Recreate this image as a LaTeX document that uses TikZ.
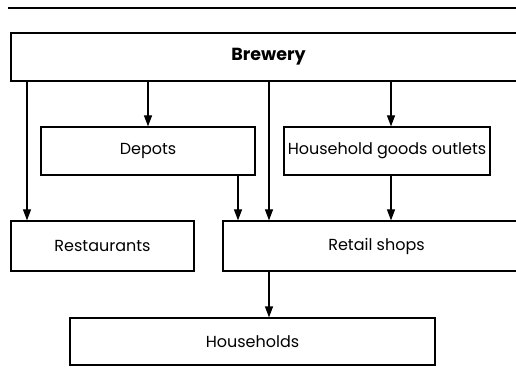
\documentclass[tikz,border=0pt]{standalone}
\usepackage{fontspec}
\setmainfont{Poppins}
\usetikzlibrary{arrows.meta}
\begin{document}
\begin{tikzpicture}[x=1pt,y=1pt,
  box/.style={draw,line width=1.2pt,inner sep=0pt,font=\fontsize{16}{18}\selectfont},
  arr/.style={line width=1.2pt,-{Triangle[length=11pt,width=8pt]}}]
\useasboundingbox (0,0) rectangle (516,380);
\clip (0,0) rectangle (516,380);
\draw[line width=1.2pt] (8,372) -- (520,372);
\node[box,minimum width=515pt,minimum height=48pt,font=\fontsize{17.5}{20}\selectfont\bfseries] (brew) at (268.5,323) {Brewery};
\node[box,minimum width=214pt,minimum height=48pt] (dep) at (148,229) {Depots};
\node[box,minimum width=206pt,minimum height=48pt] (hgo) at (387,229) {Household goods outlets};
\node[box,minimum width=183pt,minimum height=50pt] (rest) at (102.5,134) {Restaurants};
\node[box,minimum width=307pt,minimum height=50pt] (ret) at (376.5,134) {Retail shops};
\node[box,minimum width=365pt,minimum height=47pt] (hh) at (252.5,38.5) {Households};
\coordinate (xa) at (27,0);
\coordinate (xb) at (148,0);
\coordinate (xc) at (269,0);
\coordinate (xd) at (391,0);
\coordinate (xe) at (238,0);
\draw[arr] (brew.south -| xa) -- (rest.north -| xa);
\draw[arr] (brew.south -| xb) -- (dep.north -| xb);
\draw[arr] (brew.south -| xc) -- (ret.north -| xc);
\draw[arr] (brew.south -| xd) -- (hgo.north -| xd);
\draw[arr] (dep.south -| xe) -- (ret.north -| xe);
\draw[arr] (hgo.south -| xd) -- (ret.north -| xd);
\draw[arr] (ret.south -| xc) -- (hh.north -| xc);
\end{tikzpicture}
\end{document}
